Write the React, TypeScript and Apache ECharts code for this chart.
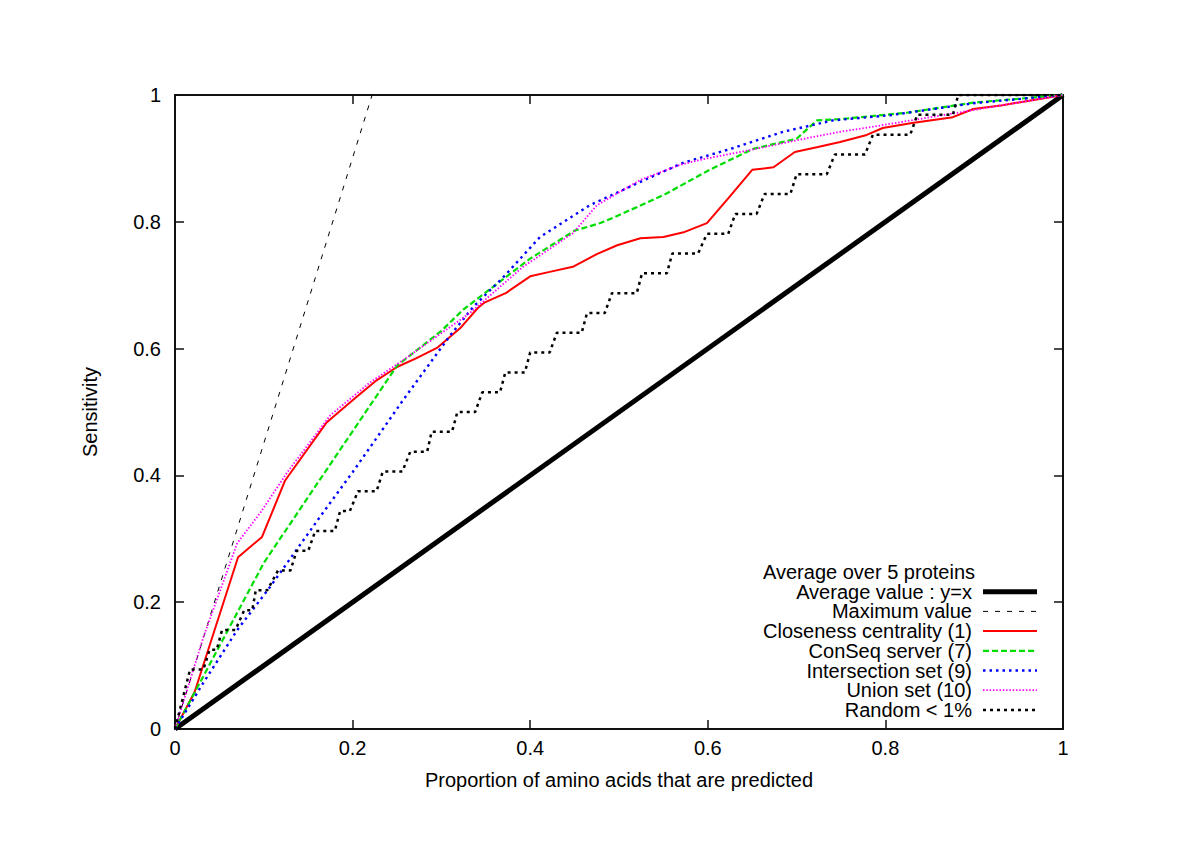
import React, { useEffect, useRef } from 'react';
import * as echarts from 'echarts';

const xTicks = [0, 0.2, 0.4, 0.6, 0.8, 1];
const yTicks = [0, 0.2, 0.4, 0.6, 0.8, 1];

const legendTitle = 'Average over 5 proteins';
const seriesNames = [
  'Average value : y=x',
  'Maximum value',
  'Closeness centrality (1)',
  'ConSeq server (7)',
  'Intersection set (9)',
  'Union set (10)',
  'Random < 1%',
];

const averageLine = [[0, 0], [1, 1]];
const maximumLine = [[0, 0], [0.222, 1]];

const closeness = [
  [0, 0], [0.022, 0.058], [0.071, 0.271], [0.098, 0.303], [0.124, 0.392], [0.171, 0.484],
  [0.203, 0.522], [0.227, 0.55], [0.25, 0.571], [0.272, 0.585], [0.295, 0.601], [0.321, 0.632],
  [0.341, 0.664], [0.349, 0.673], [0.373, 0.688], [0.4, 0.714], [0.422, 0.721], [0.448, 0.729],
  [0.475, 0.749], [0.498, 0.763], [0.524, 0.774], [0.55, 0.776], [0.574, 0.784], [0.599, 0.798],
  [0.623, 0.837], [0.65, 0.882], [0.674, 0.886], [0.698, 0.91], [0.724, 0.918], [0.749, 0.926],
  [0.779, 0.937], [0.797, 0.948], [0.83, 0.956], [0.876, 0.965], [0.899, 0.978], [0.932, 0.984],
  [1, 1],
];

const conseq = [
  [0, 0], [0.025, 0.065], [0.1, 0.262], [0.163, 0.393], [0.25, 0.573], [0.3, 0.628],
  [0.325, 0.662], [0.4, 0.742], [0.45, 0.786], [0.479, 0.798], [0.501, 0.811], [0.554, 0.845],
  [0.602, 0.882], [0.651, 0.915], [0.7, 0.931], [0.723, 0.96], [0.749, 0.962], [0.824, 0.972],
  [0.899, 0.988], [1, 1],
];

const intersection = [
  [0, 0], [0.032, 0.073], [0.07, 0.156], [0.107, 0.224], [0.163, 0.334], [0.2, 0.405],
  [0.257, 0.519], [0.31, 0.621], [0.336, 0.666], [0.37, 0.713], [0.411, 0.776], [0.467, 0.826],
  [0.524, 0.863], [0.572, 0.893], [0.628, 0.916], [0.685, 0.942], [0.741, 0.96], [0.805, 0.968],
  [0.899, 0.987], [1, 1],
];

const union = [
  [0, 0], [0.032, 0.145], [0.07, 0.293], [0.096, 0.341], [0.126, 0.404], [0.175, 0.495],
  [0.22, 0.547], [0.257, 0.582], [0.332, 0.656], [0.392, 0.729], [0.448, 0.782], [0.475, 0.826],
  [0.524, 0.866], [0.569, 0.89], [0.599, 0.9], [0.647, 0.913], [0.712, 0.932], [0.749, 0.942],
  [0.786, 0.95], [0.881, 0.972], [1, 1],
];

const randomSteps = [
  [0, 0], [0.017, 0.094], [0.032, 0.094], [0.039, 0.125], [0.047, 0.125], [0.053, 0.156],
  [0.068, 0.156], [0.078, 0.1875], [0.087, 0.1875], [0.091, 0.219], [0.104, 0.219], [0.116, 0.25],
  [0.13, 0.25], [0.137, 0.281], [0.15, 0.281], [0.158, 0.3125], [0.18, 0.3125], [0.186, 0.344],
  [0.197, 0.344], [0.206, 0.375], [0.227, 0.375], [0.234, 0.406], [0.256, 0.406], [0.265, 0.4375],
  [0.284, 0.4375], [0.289, 0.469], [0.312, 0.469], [0.318, 0.5], [0.338, 0.5], [0.346, 0.531],
  [0.366, 0.531], [0.372, 0.5625], [0.394, 0.5625], [0.4, 0.594], [0.422, 0.594], [0.43, 0.625],
  [0.458, 0.625], [0.464, 0.656], [0.484, 0.656], [0.492, 0.6875], [0.52, 0.6875], [0.526, 0.719],
  [0.554, 0.719], [0.56, 0.75], [0.589, 0.75], [0.599, 0.781], [0.623, 0.781], [0.631, 0.8125],
  [0.655, 0.8125], [0.664, 0.844], [0.693, 0.844], [0.7, 0.875], [0.734, 0.875], [0.743, 0.906],
  [0.777, 0.906], [0.786, 0.9375], [0.828, 0.9375], [0.836, 0.969], [0.876, 0.969], [0.882, 1],
  [1, 1],
];

const FONT = '"Liberation Sans", Arial, Helvetica, sans-serif';
const FS = 20;

const styles = [
  { color: '#000000', width: 5, dash: 'solid' as any },
  { color: '#000000', width: 1, dash: [5, 7] },
  { color: '#ff0000', width: 2, dash: 'solid' as any },
  { color: '#00dd00', width: 2.2, dash: [6, 3] },
  { color: '#0000ff', width: 2.4, dash: [2.5, 4] },
  { color: '#ff00ff', width: 1.8, dash: [1.5, 1.8] },
  { color: '#000000', width: 2.5, dash: [3, 4] },
];

const seriesData = [averageLine, maximumLine, closeness, conseq, intersection, union, randomSteps];

export default function App() {
  const ref = useRef<HTMLDivElement>(null);
  useEffect(() => {
    const chart = echarts.init(ref.current!, null, { renderer: 'svg' });

    const axisCommon = {
      type: 'value',
      min: 0,
      max: 1,
      interval: 0.2,
      splitLine: { show: false },
      axisLine: { show: true, onZero: false, lineStyle: { color: '#111', width: 2 } },
      axisTick: { show: true, inside: true, length: 9, lineStyle: { color: '#111', width: 1.5 } },
    };

    const legendX = 972;
    const legendTop = 572;
    const rowH = 19.7;
    const graphic: any[] = [
      {
        type: 'text',
        x: legendX + 3,
        y: legendTop,
        style: { text: legendTitle, font: `${FS}px ${FONT}`, fill: '#000', align: 'right', verticalAlign: 'middle' },
      },
    ];
    seriesNames.forEach((name, i) => {
      const y = legendTop + rowH * (i + 1);
      const st = styles[i];
      graphic.push({
        type: 'text',
        x: legendX,
        y,
        style: { text: name, font: `${FS}px ${FONT}`, fill: '#000', align: 'right', verticalAlign: 'middle' },
      });
      graphic.push({
        type: 'line',
        shape: { x1: 983, y1: y, x2: 1037, y2: y },
        style: { stroke: st.color, lineWidth: st.width, lineDash: st.dash === 'solid' ? null : st.dash },
      });
    });

    const option: any = {
      animation: false,
      backgroundColor: '#fff',
      grid: { left: 175, right: 137, top: 95, bottom: 119, containLabel: false },
      textStyle: { fontFamily: FONT },
      xAxis: [
        {
          ...axisCommon,
          position: 'bottom',
          axisLabel: { color: '#000', fontSize: FS, margin: 9, fontFamily: FONT },
          name: 'Proportion of amino acids that are predicted',
          nameLocation: 'middle',
          nameGap: 41,
          nameTextStyle: { color: '#000', fontSize: FS, fontFamily: FONT },
        },
        { ...axisCommon, position: 'top', axisLabel: { show: false } },
      ],
      yAxis: [
        {
          ...axisCommon,
          position: 'left',
          axisLabel: { color: '#000', fontSize: FS, margin: 14, fontFamily: FONT },
          name: 'Sensitivity',
          nameLocation: 'middle',
          nameGap: 75,
          nameRotate: 90,
          nameTextStyle: { color: '#000', fontSize: FS, fontFamily: FONT },
        },
        { ...axisCommon, position: 'right', axisLabel: { show: false } },
      ],
      series: seriesData.map((data, i) => ({
        type: 'line',
        name: seriesNames[i],
        data,
        xAxisIndex: 0,
        yAxisIndex: 0,
        showSymbol: false,
        silent: true,
        clip: true,
        lineStyle: { color: styles[i].color, width: styles[i].width, type: styles[i].dash },
        z: 2 + i,
      })),
      graphic,
    };
    chart.setOption(option);
    return () => chart.dispose();
  }, []);
  return (
    <div
      ref={ref}
      style={{ position: 'absolute', left: 0, top: 0, width: 1200, height: 848, background: '#fff' }}
    />
  );
}
